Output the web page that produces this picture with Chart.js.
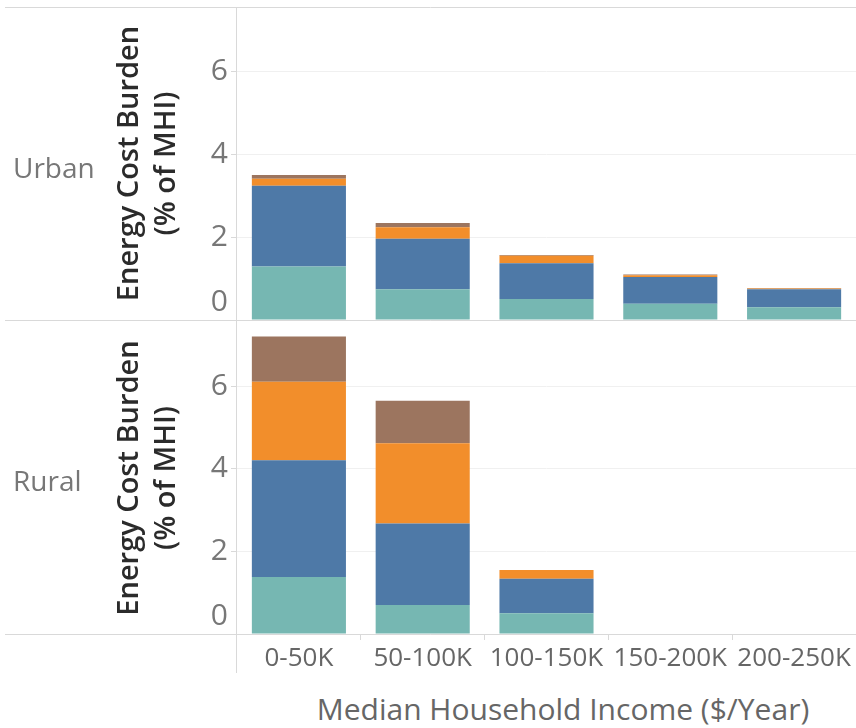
<!DOCTYPE html>
<html>
<head>
<meta charset="utf-8">
<script src="https://cdn.jsdelivr.net/npm/chart.js@4.4.1/dist/chart.umd.min.js"></script>
<style>
  html, body { margin: 0; padding: 0; background: #fff; }
  #wrap { position: relative; width: 856px; height: 728px; overflow: hidden; font-family: "Open Sans", sans-serif; }
  #wrap canvas { position: absolute; left: 0; }
  .row-label { position: absolute; left: 13px; font-size: 28px; color: #777; line-height: 1; transform: translateY(-50%); }
  #xTitle { position: absolute; left: 563px; top: 708px; transform: translate(-50%, -50%); white-space: nowrap; font-size: 30px; color: #666; }
</style>
</head>
<body>
<div id="wrap">
  <canvas id="urban" width="856" height="322" style="top:0"></canvas>
  <canvas id="rural" width="856" height="360" style="top:320px"></canvas>
  <div class="row-label" style="top:167px">Urban</div>
  <div class="row-label" style="top:480px">Rural</div>
  <div id="xTitle">Median Household Income ($/Year)</div>
</div>
<script>
// income bands on the x axis
const categories = ['0-50K', '50-100K', '100-150K', '150-200K', '200-250K'];
const segmentNames = ['Segment 1', 'Segment 2', 'Segment 3', 'Segment 4'];
const yTickValues = [0, 2, 4, 6];

// urban stack, bottom to top
const urbanTeal = [1.29, 0.74, 0.51, 0.39, 0.31];
const urbanBlue = [1.95, 1.22, 0.86, 0.65, 0.43];
const urbanOrange = [0.17, 0.28, 0.18, 0.04, 0.02];
const urbanBrown = [0.09, 0.10, 0.02, 0.02, 0.01];

// rural stack, bottom to top
const ruralTeal = [1.38, 0.70, 0.50, 0, 0];
const ruralBlue = [2.83, 1.98, 0.84, 0, 0];
const ruralOrange = [1.90, 1.94, 0.21, 0, 0];
const ruralBrown = [1.10, 1.03, 0, 0, 0];

const colors = ['#76b7b2', '#4e79a7', '#f28e2b', '#9c755f'];
const FONT = '"Open Sans", sans-serif';

// panel border lines (top / bottom / left axis line)
const frameLines = {
  id: 'frameLines',
  afterDraw(chart, args, opts) {
    const { ctx, chartArea } = chart;
    ctx.save();
    ctx.strokeStyle = '#d9d9d9';
    ctx.lineWidth = 1;
    ctx.beginPath();
    if (opts.top) {
      const yt = Math.round(chartArea.top) + 0.5;
      ctx.moveTo(5, yt);
      ctx.lineTo(chart.width, yt);
    }
    const yb = Math.round(chartArea.bottom) + 0.5;
    ctx.moveTo(5, yb);
    ctx.lineTo(chart.width, yb);
    const x = Math.round(chartArea.left) - 0.5;
    ctx.moveTo(x, opts.top ? chartArea.top : 0);
    ctx.lineTo(x, chartArea.bottom + (opts.extend || 0));
    ctx.stroke();
    ctx.restore();
  }
};

function makePanel(id, series, showX) {
  const ctx = document.getElementById(id).getContext('2d');
  return new Chart(ctx, {
    type: 'bar',
    data: {
      labels: categories,
      datasets: series.map((d, i) => ({
        label: segmentNames[i],
        data: d,
        backgroundColor: colors[i],
        borderWidth: 0,
        categoryPercentage: 1,
        barPercentage: 0.76
      }))
    },
    options: {
      responsive: false,
      animation: false,
      layout: { padding: { left: 100, top: showX ? 2 : 7, right: 0, bottom: showX ? 0 : 2 } },
      plugins: {
        legend: { display: false },
        tooltip: { enabled: false },
        frameLines: { top: !showX, extend: showX ? 39 : 0 }
      },
      scales: {
        x: {
          stacked: true,
          display: showX,
          grid: { offset: true, drawOnChartArea: false, drawTicks: true, tickLength: 6, color: '#d9d9d9' },
          border: { display: false },
          ticks: { font: { family: FONT, size: 26 }, color: '#666', padding: 3, autoSkip: false, maxRotation: 0 },
          afterFit: s => {
            if (!showX) return;
            s.height = 46;
            s.paddingLeft = 0;
            s.paddingRight = 0;
          }
        },
        y: {
          stacked: true,
          min: 0,
          max: 7.56,
          afterBuildTicks: s => { s.ticks = yTickValues.map(v => ({ value: v })); },
          ticks: {
            callback: v => v === 0 ? ['0', ''] : String(v),
            font: { family: FONT, size: 30, lineHeight: 1.2 },
            color: '#777',
            padding: 3
          },
          grid: { color: '#f0f0f0', tickColor: '#d9d9d9', tickLength: 6 },
          border: { display: false },
          title: {
            display: true,
            text: ['Energy Cost Burden', '(% of MHI)'],
            font: { family: FONT, size: 29, weight: '600', lineHeight: 1.25 },
            color: '#2b2b2b',
            padding: { top: 12, bottom: 0 }
          },
          afterFit: s => { s.width = 137; s.paddingTop = 0; s.paddingBottom = 0; }
        }
      }
    },
    plugins: [frameLines]
  });
}

makePanel('urban', [urbanTeal, urbanBlue, urbanOrange, urbanBrown], false);
makePanel('rural', [ruralTeal, ruralBlue, ruralOrange, ruralBrown], true);
</script>
</body>
</html>
